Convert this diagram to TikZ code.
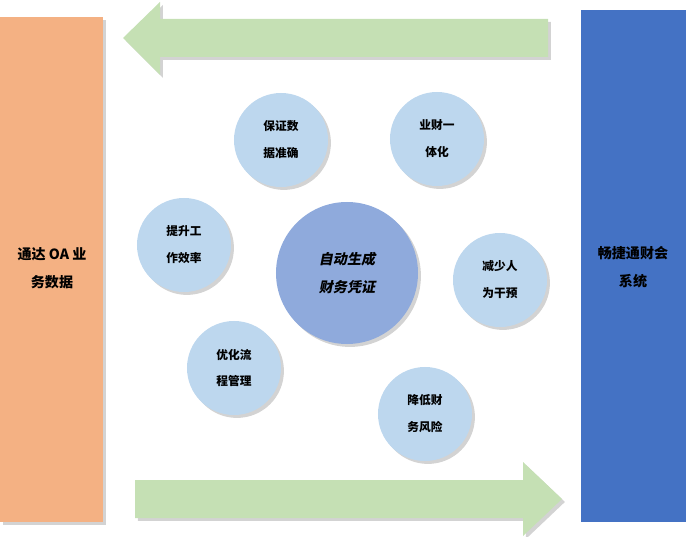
\documentclass[tikz,border=0pt]{standalone}
\usepackage{fontspec}
\newfontfamily\cjk{Noto Sans CJK SC}
\newfontfamily\cjkslant{Noto Sans CJK SC}[FakeSlant=0.2]
\usetikzlibrary{shadows}

\definecolor{oaorange}{HTML}{F4B183}
\definecolor{cwblue}{HTML}{4472C4}
\definecolor{flowgreen}{HTML}{C5E0B4}
\definecolor{gainblue}{HTML}{BDD7EE}
\definecolor{corebl}{HTML}{8FAADC}

\tikzset{
  shade/.style={drop shadow={opacity=0.35, shadow xshift=2.5pt, shadow yshift=-2.5pt}},
  gain/.style={circle, fill=gainblue, minimum size=2.82cm, inner sep=0pt, align=center, shade,
    font=\cjk\bfseries\fontsize{10pt}{23pt}\selectfont},
  sidetxt/.style={align=center, font=\cjk\bfseries\fontsize{12pt}{24pt}\selectfont}
}

\begin{document}
\begin{tikzpicture}[x=0.03cm, y=-0.03cm]
\useasboundingbox (0,0) rectangle (687,537);

% Sistemi ai lati
\fill[oaorange, shade] (0,17) rectangle (103,522);
\fill[cwblue] (581,10) rectangle (686,522);
\node[sidetxt] (oa) at (52,268) {通达 \textit{OA} 业\\务数据};
\node[sidetxt] (cw) at (633,267) {畅捷通财会\\系统};

% Frecce
\fill[flowgreen, shade] (548,19) -- (160,19) -- (160,2) -- (123,38) -- (160,75) -- (160,57) -- (548,57) -- cycle;
\fill[flowgreen, shade] (135,480) -- (523,480) -- (523,462) -- (562,499) -- (523,536) -- (523,518) -- (135,518) -- cycle;

% Cerchi
\node[circle, fill=corebl, minimum size=4.26cm, inner sep=0pt, align=center, shade,
  font=\cjkslant\bfseries\fontsize{12pt}{24pt}\selectfont] (core) at (347,273) {自动生成\\财务凭证};
\node[gain] (accurate) at (281,140) {保证数\\据准确};
\node[gain] (unify) at (437,139) {业财一\\体化};
\node[gain] (efficiency) at (184,245) {提升工\\作效率};
\node[gain] (manual) at (500,280) {减少人\\为干预};
\node[gain] (process) at (234,368) {优化流\\程管理};
\node[gain] (risk) at (425,414) {降低财\\务风险};
\end{tikzpicture}
\end{document}
